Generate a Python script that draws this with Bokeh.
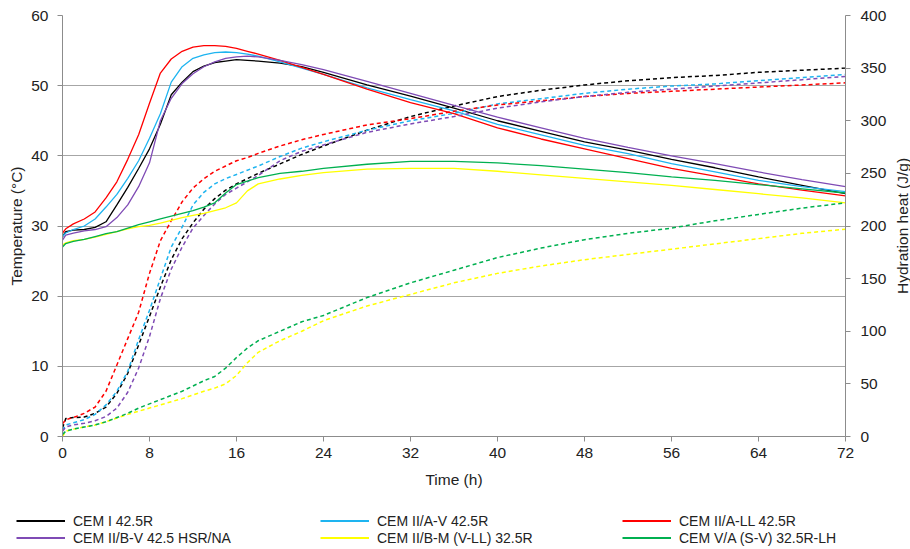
import math
from bokeh.plotting import figure
from bokeh.layouts import column, row
from bokeh.core.properties import value
from bokeh.models import (LinearAxis, Range1d, Legend, LegendItem, FixedTicker,
                          ColumnDataSource)
from bokeh.embed import file_html
from bokeh.resources import INLINE

# ---------------- data ----------------
time_h = [0, 0.3, 1, 2, 3, 4, 5, 6, 7, 8, 9, 10, 11, 12, 13, 14, 15, 16, 17, 18,
          20, 22, 24, 28, 32, 36, 40, 44, 48, 52, 56, 60, 64, 68, 72]

cements = ["CEM I 42.5R", "CEM II/A-V 42.5R", "CEM II/A-LL 42.5R",
           "CEM II/B-V 42.5 HSR/NA", "CEM II/B-M (V-LL) 32.5R", "CEM V/A (S-V) 32.5R-LH"]

# temperature (°C), left axis
temp_cem1 = [28.5, 29.2, 29.4, 29.5, 29.8, 30.6, 33.0, 35.5, 38.2, 41.0, 44.5, 48.7, 50.5, 52.0,
             52.8, 53.3, 53.5, 53.7, 53.6, 53.5, 53.2, 52.7, 51.9, 50.1, 48.5, 46.8, 45.0, 43.5,
             42.0, 40.8, 39.5, 38.3, 37.0, 35.8, 34.6]
temp_cem2av = [28.5, 29.0, 29.5, 30.0, 31.0, 32.7, 34.5, 36.8, 39.3, 42.5, 46.0, 50.5, 52.7, 53.9,
               54.4, 54.7, 54.8, 54.7, 54.5, 54.2, 53.4, 52.5, 51.6, 49.7, 48.0, 46.4, 44.5, 43.0,
               41.5, 40.3, 38.9, 37.7, 36.5, 35.6, 34.9]
temp_cem2all = [29.0, 29.6, 30.3, 31.0, 32.0, 34.0, 36.3, 39.5, 43.0, 47.5, 51.8, 53.8, 54.9, 55.5,
                55.7, 55.7, 55.6, 55.3, 54.9, 54.5, 53.6, 52.6, 51.6, 49.5, 47.6, 46.0, 44.0, 42.4,
                41.0, 39.6, 38.2, 37.1, 36.0, 35.1, 34.3]
temp_cem2bv = [28.0, 28.7, 29.0, 29.3, 29.5, 29.9, 31.2, 33.0, 35.6, 39.0, 45.0, 48.2, 50.3, 51.7,
               52.7, 53.4, 53.9, 54.1, 54.2, 54.1, 53.6, 53.0, 52.3, 50.6, 48.9, 47.2, 45.5, 44.0,
               42.5, 41.2, 40.0, 38.9, 37.7, 36.6, 35.6]
temp_cem2bm = [27.3, 27.6, 27.9, 28.1, 28.4, 28.8, 29.2, 29.6, 29.9, 30.1, 30.4, 30.8, 31.2, 31.5,
               31.8, 32.2, 32.6, 33.3, 35.0, 36.0, 36.7, 37.2, 37.6, 38.1, 38.2, 38.2, 37.8, 37.3,
               36.8, 36.3, 35.8, 35.2, 34.6, 34.0, 33.3]
temp_cem5a = [27.0, 27.5, 27.8, 28.1, 28.5, 28.9, 29.2, 29.7, 30.2, 30.6, 31.0, 31.4, 31.8, 32.2,
              32.7, 33.3, 34.7, 35.9, 36.4, 36.9, 37.5, 37.8, 38.2, 38.8, 39.2, 39.2, 39.0, 38.6,
              38.1, 37.6, 37.0, 36.5, 35.9, 35.3, 34.7]

# hydration heat (J/g), right axis
heat_cem1 = [8, 17, 18, 18.5, 22, 28, 41, 60, 87, 114, 142, 168, 188, 203, 216, 226, 234, 240,
             245, 250, 259, 268, 276, 291, 304, 314, 323, 329, 334, 338, 341, 343, 346, 348, 350]
heat_cem2av = [6, 11, 13, 16, 21, 30, 43, 62, 92, 120, 150, 180, 199, 220, 232, 240, 245, 249,
               253, 257, 266, 274, 280, 291, 300, 307, 316, 321, 326, 330, 333, 335, 338, 341, 344]
heat_cem2all = [12, 16, 18, 22, 28, 43, 68, 93, 118, 155, 186, 205, 223, 236, 245, 252, 257, 262,
                265, 269, 276, 282, 287, 296, 302, 309, 315, 319, 323, 326, 328, 330, 332, 334, 336]
heat_cem2bv = [5, 9, 11, 12.5, 15, 19, 27, 42, 65, 95, 131, 159, 180, 198, 210, 221, 230, 236,
               242, 248, 262, 271, 277, 289, 297, 304, 312, 318, 323, 327, 330, 333, 336, 339, 342]
heat_cem2bm = [0, 5, 7, 9, 11, 14, 17.5, 21, 24, 27, 30, 33, 36, 39.5, 43, 46, 50, 58, 70, 80,
               91, 100, 110, 124, 135, 146, 155, 162, 168, 173, 178, 183, 188, 193, 197]
heat_cem5a = [2, 5, 7, 9, 11, 14, 18, 22, 27, 31, 35, 39, 43, 48, 53, 57, 65, 75, 84, 91, 100,
              109, 115, 132, 146, 158, 170, 179, 187, 193, 198, 205, 211, 217, 222]

temps = [temp_cem1, temp_cem2av, temp_cem2all, temp_cem2bv, temp_cem2bm, temp_cem5a]
heats = [heat_cem1, heat_cem2av, heat_cem2all, heat_cem2bv, heat_cem2bm, heat_cem5a]
colors = ["#000000", "#1EB4F0", "#FF0000", "#7F4BB5", "#FFFF00", "#00B050"]

x_ticks = [0, 8, 16, 24, 32, 40, 48, 56, 64, 72]
temp_ticks = [0, 10, 20, 30, 40, 50, 60]
heat_ticks = [0, 50, 100, 150, 200, 250, 300, 350, 400]

x_label = "Time (h)"
temp_label = "Temperature (°C)"
heat_label = "Hydration heat (J/g)"

FONT = "Liberation Sans"
TXT = "#222222"
AX = "#8C8C8C"


def no_align(fig):
    try:
        fig.frame_align = False
    except Exception:
        pass


# ---------------- main chart ----------------
p = figure(width=893, height=500, x_range=Range1d(0, 72), y_range=Range1d(0, 60),
           output_backend="svg", toolbar_location=None,
           min_border_left=62, min_border_right=48, min_border_top=15, min_border_bottom=64)
p.outline_line_color = None
p.background_fill_color = "white"
p.border_fill_color = "white"
p.extra_y_ranges = {"heat": Range1d(0, 400)}

p.xaxis.ticker = FixedTicker(ticks=x_ticks)
p.yaxis.ticker = FixedTicker(ticks=temp_ticks)
p.xaxis.axis_label = x_label
p.yaxis.axis_label = temp_label

ax2 = LinearAxis(y_range_name="heat", ticker=FixedTicker(ticks=heat_ticks))
p.add_layout(ax2, "right")

for ax in [p.xaxis[0], p.yaxis[0], ax2]:
    ax.axis_line_color = AX
    ax.axis_line_width = 1
    ax.major_tick_line_color = AX
    ax.major_tick_out = 5
    ax.major_tick_in = 0
    ax.minor_tick_line_color = None
    ax.major_label_text_font = FONT
    ax.major_label_text_font_size = "15.5px"
    ax.major_label_text_color = TXT
    ax.axis_label_text_font = FONT
    ax.axis_label_text_font_size = "15.5px"
    ax.axis_label_text_font_style = "normal"
    ax.axis_label_text_color = TXT

p.yaxis.major_label_standoff = 9
p.yaxis.axis_label_standoff = 3
ax2.major_label_standoff = 10
p.xaxis.major_label_standoff = 6
p.xaxis.axis_label_standoff = 10

p.xgrid.grid_line_color = None
p.ygrid.grid_line_color = "#A6A6A6"
p.ygrid.grid_line_width = 1

# ---------------- right axis title strip ----------------
side = figure(width=17, height=500, x_range=Range1d(-1, 1), y_range=Range1d(-1, 1),
              x_axis_type=None, y_axis_type=None, output_backend="svg",
              toolbar_location=None, min_border_left=0, min_border_right=0,
              min_border_top=15, min_border_bottom=64)
side.outline_line_color = None
side.border_fill_color = "white"
side.background_fill_color = "white"
no_align(side)
side.text(x=[0], y=[0], text=[heat_label], angle=math.pi / 2, text_align="center",
          text_baseline="middle", text_font=value(FONT), text_font_size="15.5px",
          text_color=TXT)

# ---------------- legend strip ----------------
pl = figure(width=910, height=49, x_range=Range1d(-2000, -1999), y_range=Range1d(-2000, -1999),
            x_axis_type=None, y_axis_type=None, output_backend="svg", toolbar_location=None,
            min_border=0)
pl.outline_line_color = None
pl.border_fill_color = "white"
pl.background_fill_color = "white"
no_align(pl)

leg_renderers = []
for name, t, h, c in zip(cements, temps, heats, colors):
    src = ColumnDataSource(dict(t=time_h, temp=t, heat=h))
    p.line("t", "temp", source=src, line_color=c, line_width=1.3)
    p.line("t", "heat", source=src, y_range_name="heat", line_color=c,
           line_width=1.5, line_dash="4 3")
    leg_renderers.append(pl.line("t", "temp", source=src, line_color=c, line_width=2.2))

col_x = [16, 320, 622]
for j in range(3):
    its = [LegendItem(label=cements[k], renderers=[leg_renderers[k]]) for k in (j, j + 3)]
    lg = Legend(items=its, orientation="vertical", location=(col_x[j], 3),
                glyph_width=49, glyph_height=17, label_height=17, label_standoff=8,
                spacing=0, padding=0, margin=0, border_line_color=None,
                background_fill_alpha=0, label_text_font=FONT,
                label_text_font_size="14px", label_text_color=TXT)
    pl.add_layout(lg, "center")

layout = column(row(p, side), pl)
open("out.html", "w").write(file_html(layout, INLINE))
